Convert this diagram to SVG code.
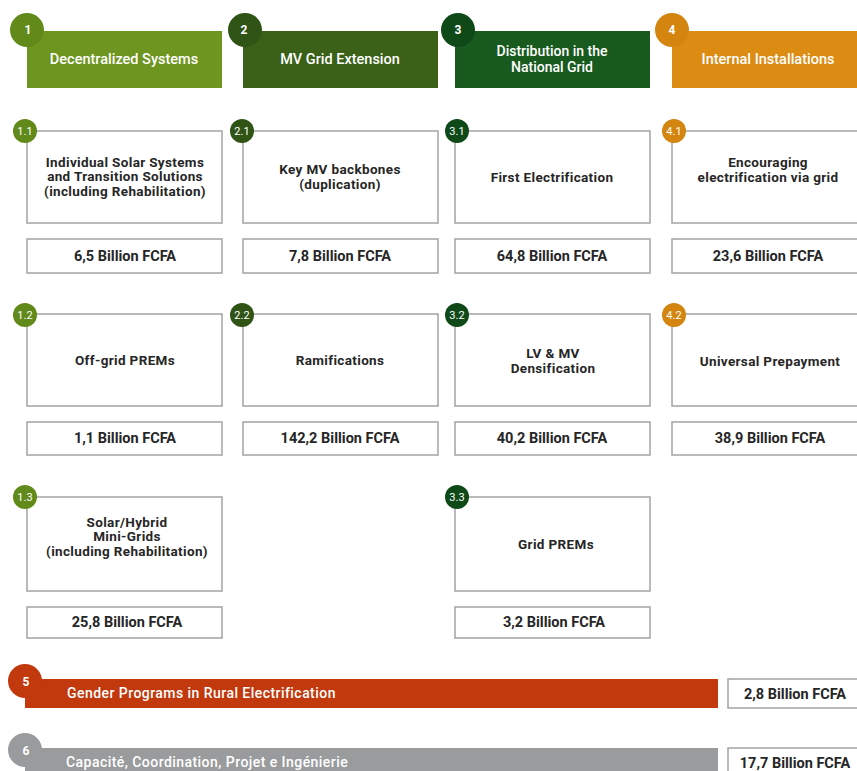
<svg xmlns="http://www.w3.org/2000/svg" width="857" height="771" viewBox="0 0 857 771">
<style>
  .hdr-t{font-family:Roboto,"Liberation Sans",sans-serif;font-size:14.5px;font-weight:500;fill:#ffffff;text-anchor:middle}
  .hdr-s{font-size:14px}
  .num{font-family:Roboto,"Liberation Sans",sans-serif;font-size:12px;font-weight:700;fill:#ffffff;text-anchor:middle}
  .snum{font-family:Roboto,"Liberation Sans",sans-serif;font-size:11px;font-weight:400;fill:#ffffff;text-anchor:middle}
  .box{fill:#ffffff;stroke:#a3a3a3;stroke-width:1.5}
  .ttl{font-family:Roboto,"Liberation Sans",sans-serif;font-size:13.5px;font-weight:700;letter-spacing:0.35px;fill:#262626;text-anchor:middle}
  .amt{font-family:Roboto,"Liberation Sans",sans-serif;font-size:14.5px;font-weight:700;fill:#262626;text-anchor:middle}
  .bar-t{font-family:Roboto,"Liberation Sans",sans-serif;font-size:14px;font-weight:500;letter-spacing:0.45px;fill:#ffffff}
  .c1{fill:#6e951f}.c1d{fill:#628a1b}
  .c2{fill:#3b6119}.c2d{fill:#305316}
  .c3{fill:#195a1f}.c3d{fill:#0f4918}
  .c4{fill:#dc8c13}.c4d{fill:#d3850f}
</style>
<rect width="857" height="771" fill="#ffffff"/>

<!-- Headers -->
<g id="h1">
  <rect class="c1" x="27" y="31" width="195" height="57"/>
  <circle class="c1d" cx="27" cy="30" r="17"/>
  <text class="num" x="28" y="34">1</text>
  <text class="hdr-t" x="124" y="64">Decentralized Systems</text>
</g>
<g id="h2">
  <rect class="c2" x="243" y="31" width="195" height="57"/>
  <circle class="c2d" cx="245" cy="30" r="17"/>
  <text class="num" x="244" y="34">2</text>
  <text class="hdr-t" x="340" y="64">MV Grid Extension</text>
</g>
<g id="h3">
  <rect class="c3" x="455" y="31" width="195" height="57"/>
  <circle class="c3d" cx="458" cy="30" r="17"/>
  <text class="num" x="458" y="34">3</text>
  <text class="hdr-t hdr-s" x="552" y="56">Distribution in the</text>
  <text class="hdr-t hdr-s" x="552" y="72">National Grid</text>
</g>
<g id="h4">
  <rect class="c4" x="672" y="31" width="195" height="57"/>
  <circle class="c4d" cx="672" cy="30" r="17"/>
  <text class="num" x="672" y="34">4</text>
  <text class="hdr-t" x="768" y="64">Internal Installations</text>
</g>

<!-- Row 1 -->
<g id="n11">
  <rect class="box" x="27" y="131" width="195" height="92"/>
  <circle class="c1d" cx="25" cy="131" r="12"/>
  <text class="snum" x="25" y="135">1.1</text>
  <text class="ttl" x="125" y="166.5">Individual Solar Systems</text>
  <text class="ttl" x="125" y="181">and Transition Solutions</text>
  <text class="ttl" x="125" y="195.5">(including Rehabilitation)</text>
</g>
<g id="a11">
  <rect class="box" x="27" y="239" width="195" height="34"/>
  <text class="amt" x="125" y="261">6,5 Billion FCFA</text>
</g>
<g id="n21">
  <rect class="box" x="243" y="131" width="195" height="92"/>
  <circle class="c2d" cx="242" cy="131" r="12"/>
  <text class="snum" x="242" y="135">2.1</text>
  <text class="ttl" x="340" y="174">Key MV backbones</text>
  <text class="ttl" x="340" y="188.5">(duplication)</text>
</g>
<g id="a21">
  <rect class="box" x="243" y="239" width="195" height="34"/>
  <text class="amt" x="340" y="261">7,8 Billion FCFA</text>
</g>
<g id="n31">
  <rect class="box" x="455" y="131" width="195" height="92"/>
  <circle class="c3d" cx="457" cy="131" r="12"/>
  <text class="snum" x="457" y="135">3.1</text>
  <text class="ttl" x="552" y="182">First Electrification</text>
</g>
<g id="a31">
  <rect class="box" x="455" y="239" width="195" height="34"/>
  <text class="amt" x="552" y="261">64,8 Billion FCFA</text>
</g>
<g id="n41">
  <rect class="box" x="672" y="131" width="195" height="92"/>
  <circle class="c4d" cx="674" cy="131" r="12"/>
  <text class="snum" x="674" y="135">4.1</text>
  <text class="ttl" x="768" y="167">Encouraging</text>
  <text class="ttl" x="768" y="181.5">electrification via grid</text>
</g>
<g id="a41">
  <rect class="box" x="672" y="239" width="195" height="34"/>
  <text class="amt" x="768" y="261">23,6 Billion FCFA</text>
</g>

<!-- Row 2 -->
<g id="n12">
  <rect class="box" x="27" y="314" width="195" height="92"/>
  <circle class="c1d" cx="25" cy="315" r="12"/>
  <text class="snum" x="25" y="319">1.2</text>
  <text class="ttl" x="125" y="365">Off-grid PREMs</text>
</g>
<g id="a12">
  <rect class="box" x="27" y="422" width="195" height="33"/>
  <text class="amt" x="125" y="443">1,1 Billion FCFA</text>
</g>
<g id="n22">
  <rect class="box" x="243" y="314" width="195" height="92"/>
  <circle class="c2d" cx="242" cy="315" r="12"/>
  <text class="snum" x="242" y="319">2.2</text>
  <text class="ttl" x="340" y="365">Ramifications</text>
</g>
<g id="a22">
  <rect class="box" x="243" y="422" width="195" height="33"/>
  <text class="amt" x="340" y="443">142,2 Billion FCFA</text>
</g>
<g id="n32">
  <rect class="box" x="455" y="314" width="195" height="92"/>
  <circle class="c3d" cx="457" cy="315" r="12"/>
  <text class="snum" x="457" y="319">3.2</text>
  <text class="ttl" x="553" y="358">LV &amp; MV</text>
  <text class="ttl" x="553" y="372.5">Densification</text>
</g>
<g id="a32">
  <rect class="box" x="455" y="422" width="195" height="33"/>
  <text class="amt" x="552" y="443">40,2 Billion FCFA</text>
</g>
<g id="n42">
  <rect class="box" x="672" y="314" width="195" height="92"/>
  <circle class="c4d" cx="674" cy="315" r="12"/>
  <text class="snum" x="674" y="319">4.2</text>
  <text class="ttl" x="770" y="366">Universal Prepayment</text>
</g>
<g id="a42">
  <rect class="box" x="672" y="422" width="195" height="33"/>
  <text class="amt" x="770" y="443">38,9 Billion FCFA</text>
</g>

<!-- Row 3 -->
<g id="n13">
  <rect class="box" x="27" y="497" width="195" height="94"/>
  <circle class="c1d" cx="25" cy="497" r="12"/>
  <text class="snum" x="25" y="501">1.3</text>
  <text class="ttl" x="127" y="526.5">Solar/Hybrid</text>
  <text class="ttl" x="127" y="541">Mini-Grids</text>
  <text class="ttl" x="127" y="555.5">(including Rehabilitation)</text>
</g>
<g id="a13">
  <rect class="box" x="27" y="607" width="195" height="31"/>
  <text class="amt" x="127" y="627">25,8 Billion FCFA</text>
</g>
<g id="n33">
  <rect class="box" x="455" y="497" width="195" height="94"/>
  <circle class="c3d" cx="457" cy="497" r="12"/>
  <text class="snum" x="457" y="501">3.3</text>
  <text class="ttl" x="556" y="549">Grid PREMs</text>
</g>
<g id="a33">
  <rect class="box" x="455" y="607" width="195" height="31"/>
  <text class="amt" x="554" y="627">3,2 Billion FCFA</text>
</g>

<!-- Bottom bars -->
<g id="b5">
  <rect fill="#c1390c" x="25" y="679" width="693" height="29"/>
  <circle fill="#c1390c" cx="25" cy="681" r="17"/>
  <text class="num" x="26" y="686">5</text>
  <text class="bar-t" x="67" y="698">Gender Programs in Rural Electrification</text>
</g>
<g id="a5">
  <rect class="box" x="728" y="679" width="140" height="29"/>
  <text class="amt" x="795" y="699">2,8 Billion FCFA</text>
</g>
<g id="b6">
  <rect fill="#9a9b9d" x="25" y="748" width="693" height="30"/>
  <circle fill="#9a9b9d" cx="25" cy="750" r="17"/>
  <text class="num" x="26" y="755">6</text>
  <text class="bar-t" x="66" y="767">Capacité, Coordination, Projet e Ingénierie</text>
</g>
<g id="a6">
  <rect class="box" x="728" y="748" width="140" height="30"/>
  <text class="amt" x="795" y="768">17,7 Billion FCFA</text>
</g>

<g id="connectors"></g>
</svg>
